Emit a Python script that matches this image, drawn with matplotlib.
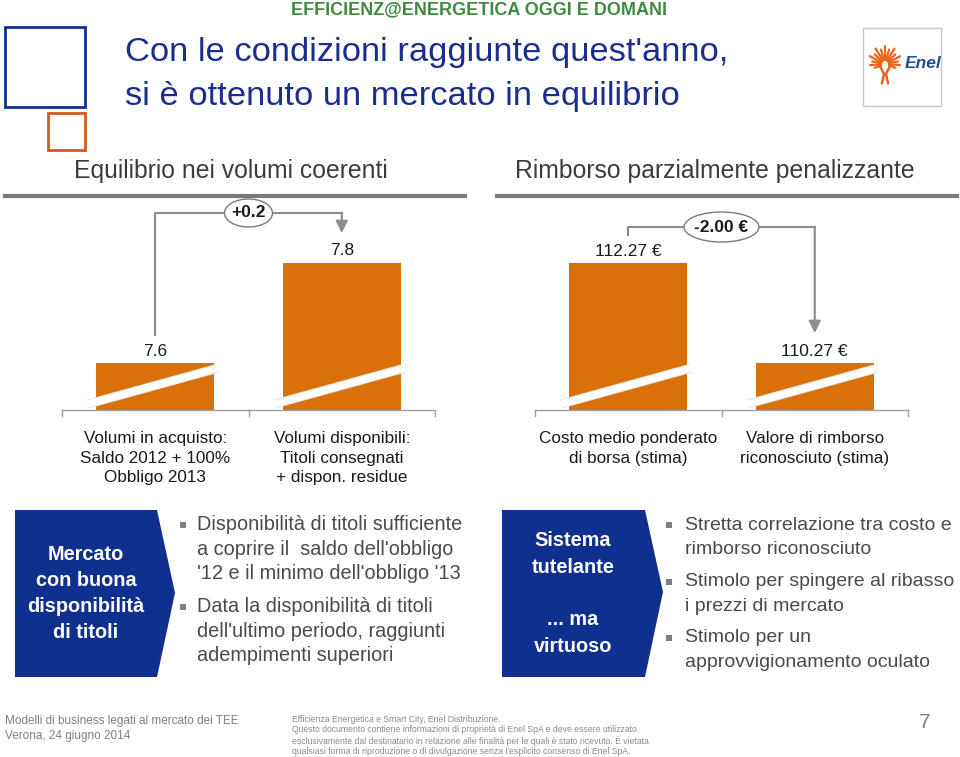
import matplotlib
matplotlib.use("Agg")
import matplotlib.pyplot as plt
import numpy as np
from matplotlib.patches import Ellipse, Polygon, Rectangle

# chart data
vol_cats = ["Volumi in acquisto:\nSaldo 2012 + 100%\nObbligo 2013",
            "Volumi disponibili:\nTitoli consegnati\n+ dispon. residue"]
vol_values = [7.6, 7.8]
vol_delta = "+0.2"

price_cats = ["Costo medio ponderato\ndi borsa (stima)",
              "Valore di rimborso\nriconosciuto (stima)"]
price_values = [112.27, 110.27]
price_delta = "-2.00 €"

left_box = ["Mercato", "con buona", "disponibilità", "di titoli"]
left_bullets = ["Disponibilità di titoli sufficiente\na coprire il  saldo dell'obbligo\n'12 e il minimo dell'obbligo '13",
                "Data la disponibilità di titoli\ndell'ultimo periodo, raggiunti\nadempimenti superiori"]
right_box = ["Sistema", "tutelante", "", "... ma", "virtuoso"]
right_bullets = ["Stretta correlazione tra costo e\nrimborso riconosciuto",
                 "Stimolo per spingere al ribasso\ni prezzi di mercato",
                 "Stimolo per un\napprovvigionamento oculato"]

ORANGE = "#d9700a"
NAVY = "#10308f"
GREY_LINE = "#8c8c8c"
TEXT = "#1a1a1a"
BODY = "#4a4a4a"
SANS = ["Liberation Sans", "DejaVu Sans"]

plt.rcParams["font.family"] = SANS

W, H = 960, 757
fig = plt.figure(figsize=(9.6, 7.57), dpi=100)
bg = fig.add_axes([0, 0, 1, 1])
bg.set_xlim(0, W)
bg.set_ylim(H, 0)
bg.axis("off")

# header
bg.text(479, 10, "EFFICIENZ@ENERGETICA OGGI E DOMANI", ha="center", va="center",
        fontsize=13, fontweight="bold", color="#3f8a3f")
bg.add_patch(Rectangle((5, 27), 80, 80, fill=False, ec=NAVY, lw=2))
bg.add_patch(Rectangle((48, 113), 37, 37, fill=False, ec="#d35a1e", lw=2))
bg.text(125, 53, "Con le condizioni raggiunte quest'anno,", ha="left", va="center",
        fontsize=24.8, color="#1a2e8f")
bg.text(125, 97, "si è ottenuto un mercato in equilibrio", ha="left", va="center",
        fontsize=24.8, color="#1a2e8f")

# Enel logo
bg.add_patch(Rectangle((863, 28), 78, 78, fill=False, ec="#c8c8c8", lw=1))
cx, cy = 885, 64
for ang, r in zip(np.linspace(-20, 200, 15), [11, 15, 13, 17, 14, 18, 15, 18, 15, 18, 14, 17, 13, 15, 11]):
    a = np.radians(ang)
    bg.plot([cx + 4 * np.cos(a), cx + r * np.cos(a)], [cy - 4 * np.sin(a), cy - r * np.sin(a)],
            color="#e8641c", lw=1.6, solid_capstyle="round")
bg.plot([cx - 5, cx - 1, cx - 3], [cy + 2, cy + 10, cy + 19], color="#e8641c", lw=1.8)
bg.plot([cx + 5, cx + 1, cx + 3], [cy + 2, cy + 10, cy + 19], color="#e8641c", lw=1.8)
bg.text(905, 63, "Enel", ha="left", va="center", fontsize=12.5, fontweight="bold",
        fontstyle="italic", color="#1f4e9c")

# section headings
bg.text(231, 171, "Equilibrio nei volumi coerenti", ha="center", va="center",
        fontsize=17.8, color="#3c3c3c")
bg.text(715, 171, "Rimborso parzialmente penalizzante", ha="center", va="center",
        fontsize=17.8, color="#3c3c3c")
bg.plot([5, 465], [196, 196], color="#7a7a7a", lw=3)
bg.plot([497, 957], [196, 196], color="#7a7a7a", lw=3)


def chart(x0, x1, values, cats, fmt, delta, lo, hi, bracket_px, ell_w, ell_h):
    top_px, base_px = 200, 410
    ax = fig.add_axes([x0 / W, 1 - base_px / H, (x1 - x0) / W, (base_px - top_px) / H])
    ax.set_xlim(-0.5, 1.5)
    ax.set_ylim(lo, hi)
    ax.axis("off")
    ppu = (base_px - top_px) / (hi - lo)
    cell = (x1 - x0) / 2
    xs = np.arange(len(values))
    vals = np.array(values)
    ax.bar(xs, vals - lo, bottom=lo, width=0.633, color=ORANGE, zorder=2)
    for x in xs:
        ax.plot([x - 0.36, x + 0.34], [lo + 6 / ppu, lo + 42 / ppu], color="#e6e6e6", lw=6.5,
                solid_capstyle="butt", zorder=3, clip_on=False)
        ax.plot([x - 0.36, x + 0.34], [lo + 6 / ppu, lo + 42 / ppu], color="white", lw=5,
                solid_capstyle="butt", zorder=3, clip_on=False)
    for x, v in zip(xs, vals):
        ax.text(x, v + 12 / ppu, fmt(v), ha="center", va="center", fontsize=12.5, color=TEXT)
    # bracket with arrow
    y0 = vals[0] + 28 / ppu
    yb = lo + (base_px - bracket_px) / ppu
    y1 = vals[1] + 30 / ppu
    ax.plot([0, 0, 1], [y0, yb, yb], color=GREY_LINE, lw=1.5, clip_on=False, zorder=3)
    ax.annotate("", xy=(1, y1), xytext=(1, yb + 0.1 / ppu),
                arrowprops=dict(arrowstyle="-|>", color=GREY_LINE, lw=1.5,
                                mutation_scale=18, shrinkA=0, shrinkB=0), annotation_clip=False)
    ax.add_patch(Ellipse((0.5, yb), ell_w / cell, ell_h / ppu, fc="white", ec="#7a7a7a",
                         lw=1, zorder=4, clip_on=False))
    ax.text(0.5, yb, delta, ha="center", va="center", fontsize=12.5, fontweight="bold",
            color=TEXT, zorder=5)
    # category frame and labels
    ax.plot([-0.5, 1.5], [lo, lo], color="#a0a0a0", lw=1, clip_on=False, zorder=1)
    for xt in [-0.5, 0.5, 1.5]:
        ax.plot([xt, xt], [lo, lo - 6 / ppu], color="#a0a0a0", lw=1, clip_on=False)
    for x, c in zip(xs, cats):
        ax.text(x, lo - 21 / ppu, c, ha="center", va="top", fontsize=12.3, color=TEXT,
                linespacing=1.38, clip_on=False)
    return ax


chart(62, 435, vol_values, vol_cats, lambda v: f"{v:.1f}", vol_delta,
      7.506, 7.506 + 210 / 500, 213, 48, 28)
chart(535, 908, price_values, price_cats, lambda v: f"{v:.2f} €", price_delta,
      109.33, 109.33 + 210 / 50, 227, 75, 30)

# bottom chevrons
bg.add_patch(Polygon([(15, 510), (157, 510), (175, 593), (157, 677), (15, 677)], closed=True,
                     fc=NAVY, ec="none"))
bg.add_patch(Polygon([(502, 510), (645, 510), (663, 592), (645, 677), (502, 677)], closed=True,
                     fc=NAVY, ec="none"))
for i, line in enumerate(left_box):
    bg.text(86, 554 + 26 * i, line, ha="center", va="center", fontsize=14.3,
            fontweight="bold", color="white")
for i, line in enumerate(right_box):
    if line:
        bg.text(573, 541 + 26.3 * i, line, ha="center", va="center", fontsize=14.3,
                fontweight="bold", color="white")


def bullets(xb, xt, y_starts, items, size):
    for y, txt in zip(y_starts, items):
        bg.add_patch(Rectangle((xb - 3, y - 3), 6, 6, fc="#808080", ec="none"))
        for j, line in enumerate(txt.split("\n")):
            bg.text(xt, y + 24.3 * j, line, ha="left", va="center", fontsize=size, color=BODY)


bullets(183, 197, [525, 607], left_bullets, 14.3)
bullets(669, 685, [525, 582, 638], right_bullets, 14.0)

# footer
bg.text(5, 721, "Modelli di business legati al mercato dei TEE", ha="left", va="center",
        fontsize=8.5, color="#808080")
bg.text(5, 736, "Verona, 24 giugno 2014", ha="left", va="center", fontsize=8.5, color="#808080")
foot = ["Efficienza Energetica e Smart City, Enel Distribuzione.",
        "Questo documento contiene informazioni di proprietà di Enel SpA e deve essere utilizzato",
        "esclusivamente dal destinatario in relazione alle finalità per le quali è stato ricevuto. È vietata",
        "qualsiasi forma di riproduzione o di divulgazione senza l'esplicito consenso di Enel SpA."]
for i, line in enumerate(foot):
    bg.text(292, 719 + 11 * i, line, ha="left", va="center", fontsize=6.2, color="#8a8a8a")
bg.text(925, 722, "7", ha="center", va="center", fontsize=15, color="#808080")

fig.savefig("out.png", dpi=100)
